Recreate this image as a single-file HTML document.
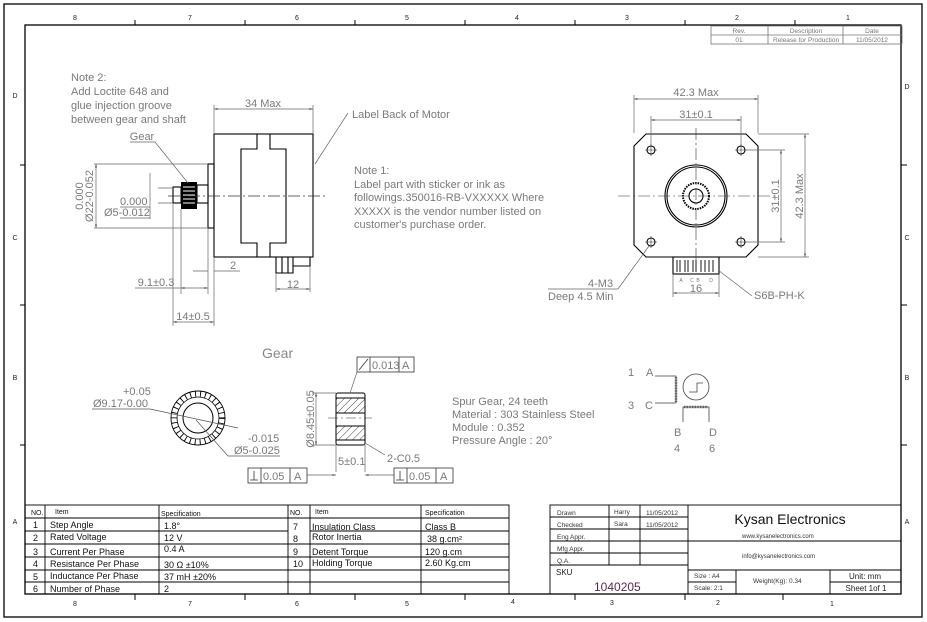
<!DOCTYPE html>
<html><head><meta charset="utf-8"><style>
html,body{margin:0;padding:0;background:#fff}
svg{display:block}
text{font-family:"Liberation Sans",Arial,sans-serif}
.g{fill:#7a7a7a;font-size:11px}
.t{fill:#111;font-size:9px}
.s{fill:#333;font-size:6.5px}
.m{fill:#222;font-size:7px;font-family:"Liberation Mono",monospace}
</style></head><body>
<svg width="927" height="622" viewBox="0 0 927 622" xmlns="http://www.w3.org/2000/svg">
<defs>
<marker id="a" viewBox="0 0 10 10" refX="10" refY="5" markerWidth="7" markerHeight="5" orient="auto-start-reverse"><path d="M0,2 L10,5 L0,8 z" fill="#555"/></marker>
<pattern id="h" width="5" height="5" patternUnits="userSpaceOnUse" patternTransform="rotate(45)"><line x1="0" y1="0" x2="0" y2="5" stroke="#444" stroke-width="1"/></pattern>
</defs>
<g fill="none" stroke="#000">
<rect x="4" y="4" width="918" height="613" stroke-width="1.3"/>
<rect x="25" y="25" width="876" height="569" stroke-width="1.3"/>
<path d="M135 20V25M245 20V25M355 20V25M465 20V25M575 20V25M685 20V25M795 20V25 M135 594V600M245 594V600M355 594V600M465 594V600M575 594V600M685 594V600M783 594V600 M20 165H25M20 305H25M20 445H25 M901 165H907M901 305H907M901 445H907"/>
</g>
<g class="m" text-anchor="middle">
<text x="75" y="20">8</text><text x="190" y="20">7</text><text x="297" y="20">6</text><text x="407" y="20">5</text><text x="517" y="20">4</text><text x="627" y="20">3</text><text x="737" y="20">2</text><text x="848" y="20">1</text>
<text x="75" y="606">8</text><text x="190" y="606">7</text><text x="297" y="606">6</text><text x="407" y="606">5</text><text x="513" y="604">4</text><text x="612" y="605">3</text><text x="718" y="605">2</text><text x="832" y="606">1</text>
<text x="15" y="98">D</text><text x="15" y="240">C</text><text x="15" y="380">B</text><text x="15" y="524">A</text>
<text x="907" y="89">D</text><text x="907" y="240">C</text><text x="907" y="380">B</text><text x="907" y="524">A</text>
</g>
<!-- revision table -->
<g fill="none" stroke="#777" stroke-width="0.8"><rect x="711" y="26" width="191" height="18"/><path d="M711 35H902M768 26V44M843 26V44"/></g>
<g font-size="6.5" fill="#777" text-anchor="middle"><text x="739" y="33">Rev.</text><text x="806" y="33">Description</text><text x="872" y="33">Date</text><text x="739" y="42">01</text><text x="806" y="42">Release for Production</text><text x="872" y="42">11/05/2012</text></g>

<!-- notes -->
<g class="g"><text x="71" y="81">Note 2:</text><text x="71" y="95">Add Loctite 648 and</text><text x="71" y="109">glue injection groove</text><text x="71" y="123">between gear and shaft</text>
<text x="354" y="174">Note 1:</text><text x="354" y="188">Label part with sticker or ink as</text><text x="354" y="201">followings.350016-RB-VXXXXX Where</text><text x="354" y="215">XXXXX is the vendor number listed on</text><text x="354" y="228">customer's purchase order.</text>
<text x="352" y="118">Label Back of Motor</text></g>

<!-- side view -->
<g fill="none" stroke="#000" stroke-width="1.1">
<rect x="214" y="134" width="99" height="123"/>
<path d="M257 134V149H241V243H257V257M270 134V149H286V243H270V257"/>
<rect x="208" y="164" width="6" height="64"/>
<rect x="197" y="185" width="11" height="18"/>
<rect x="173" y="187" width="8" height="16"/>
<path d="M276 257V273H293V257M282 257V273M288 257V273M293 266H310V257"/>
</g>
<rect x="181" y="182" width="16" height="27" fill="#000"/>
<g stroke="#fff" stroke-width="1"><path d="M183 187H195M183 191H195M183 195H195M183 199H195M183 203H195"/></g>
<path d="M168 196H325" stroke="#333" stroke-width="0.7" stroke-dasharray="12 3 2 3"/>
<g fill="none" stroke="#666" stroke-width="0.7">
<path d="M214 133V105M313 133V105"/><path d="M214 109H313" marker-start="url(#a)" marker-end="url(#a)"/>
<path d="M315 164L348 113"/>
<path d="M94 164H208M94 228H208"/><path d="M96 164V228" marker-start="url(#a)" marker-end="url(#a)"/>
<path d="M158 188H173M158 203H173M150 173V219M120 207H150M120 218H150"/>
<path d="M130 142H155L188 183"/>
<path d="M193 271H208M214 271H240"/>
<path d="M181 209V294M208 228V294M173 203V326M214 257V326"/>
<path d="M135 288H181"/><path d="M181 288H208" marker-start="url(#a)" marker-end="url(#a)"/>
<path d="M173 322H214" marker-start="url(#a)" marker-end="url(#a)"/>
<path d="M276 273V292M310 266V292"/><path d="M276 289H310" marker-start="url(#a)" marker-end="url(#a)"/>
</g>
<g class="g" text-anchor="middle"><text x="263" y="107">34 Max</text><text x="142" y="140">Gear</text><text x="233" y="269">2</text><text x="156" y="286">9.1±0.3</text><text x="193" y="320">14±0.5</text><text x="293" y="288">12</text></g>
<g class="g"><text x="120" y="205">0.000</text><text x="104" y="216">Ø5-0.012</text>
<text transform="translate(83,196) rotate(-90)" text-anchor="middle">0.000</text><text transform="translate(93,196) rotate(-90)" text-anchor="middle">Ø22-0.052</text></g>

<!-- front view -->
<g fill="none" stroke="#000" stroke-width="1.1">
<path d="M646 134H746L758 146V245L746 257H646L634 245V146Z"/>
<circle cx="651" cy="150" r="4"/><circle cx="741" cy="150" r="4"/><circle cx="651" cy="242" r="4"/><circle cx="741" cy="242" r="4"/>
<circle cx="696" cy="196" r="31"/><circle cx="696" cy="196" r="29"/>
<circle cx="696" cy="196" r="13" stroke-dasharray="1.5 1" stroke-width="2"/><circle cx="696" cy="196" r="7"/>
<rect x="673" y="257" width="46" height="17"/>
<path d="M677 260V272M680 260V272M685 260V272M688 260V272M693 260V272M696 260V272M701 260V272M705 260V272M709 260V272M713 260V272" stroke-width="0.9"/>
</g>
<g stroke="#333" stroke-width="0.6" fill="none"><path d="M645 150H657M651 144V156M735 150H747M741 144V156M645 242H657M651 236V248M735 242H747M741 236V248"/>
<path d="M618 196H775M696 128V262" stroke-dasharray="12 3 2 3"/></g>
<g fill="none" stroke="#666" stroke-width="0.7">
<path d="M634 133V95M758 133V95M651 146V116M741 146V116"/>
<path d="M634 99H758" marker-start="url(#a)" marker-end="url(#a)"/><path d="M651 120H741" marker-start="url(#a)" marker-end="url(#a)"/>
<path d="M745 150H785M745 242H785M758 134H809M758 257H809"/>
<path d="M781 150V242" marker-start="url(#a)" marker-end="url(#a)"/><path d="M805 134V257" marker-start="url(#a)" marker-end="url(#a)"/>
<path d="M673 274V297M719 274V297"/><path d="M673 293H719" marker-start="url(#a)" marker-end="url(#a)"/>
<path d="M649 246L618 289H548"/><path d="M718 270L752 296"/>
</g>
<g class="g" text-anchor="middle"><text x="696" y="96">42.3 Max</text><text x="696" y="118">31±0.1</text><text x="696" y="292">16</text>
<text transform="translate(779,196) rotate(-90)">31±0.1</text><text transform="translate(803,196) rotate(-90)">42.3 Max</text></g>
<g fill="#777" font-size="5" text-anchor="middle"><text x="681" y="282">A</text><text x="692" y="282">C</text><text x="698" y="282">B</text><text x="711" y="282">D</text></g>
<g class="g"><text x="588" y="287">4-M3</text><text x="548" y="300">Deep 4.5 Min</text><text x="754" y="299">S6B-PH-K</text></g>

<!-- gear detail -->
<text x="262" y="358" fill="#888" font-size="14">Gear</text>
<circle cx="198" cy="418" r="27" fill="none" stroke="#000" stroke-width="0.9"/>
<circle cx="198" cy="418" r="24" fill="none" stroke="#000" stroke-width="6" stroke-dasharray="0.9 4.1"/>
<circle cx="198" cy="418" r="21" fill="none" stroke="#000" stroke-width="0.8"/>
<circle cx="198" cy="418" r="15" fill="none" stroke="#000" stroke-width="1"/>
<g fill="none" stroke="#555" stroke-width="0.7"><path d="M92 409H150L238 428"/><path d="M280 456H228L196 420"/></g>
<g class="g"><text x="123" y="395">+0.05</text><text x="93" y="407">Ø9.17-0.00</text><text x="248" y="442">-0.015</text><text x="234" y="454">Ø5-0.025</text></g>
<rect x="336" y="398" width="29" height="15" fill="url(#h)"/><rect x="336" y="426" width="29" height="14" fill="url(#h)"/>
<g fill="none" stroke="#000" stroke-width="1"><rect x="336" y="393" width="29" height="52" rx="2"/><path d="M336 398H365M336 413H365M336 426H365M336 440H365"/></g>
<path d="M328 418H372" stroke="#333" stroke-width="0.6" stroke-dasharray="10 3 2 3"/>
<g fill="none" stroke="#666" stroke-width="0.7">
<path d="M312 393H336M312 445H336"/><path d="M316 393V445" marker-start="url(#a)" marker-end="url(#a)"/>
<path d="M357 372L350 393"/><path d="M365 443L385 455"/>
<path d="M336 445V472M365 445V472"/><path d="M307 475H336" marker-end="url(#a)"/><path d="M394 475H365" marker-end="url(#a)"/>
</g>
<g fill="none" stroke="#333" stroke-width="0.8"><rect x="357" y="357" width="57" height="15"/><path d="M370 357V372M399 357V372M359 370L368 359"/>
<rect x="248" y="468" width="59" height="15"/><path d="M261 468V483M290 468V483M250 480H258M254 480V471"/>
<rect x="394" y="468" width="59" height="15"/><path d="M407 468V483M436 468V483M396 480H404M400 480V471"/></g>
<g class="g"><text x="372" y="369">0.013</text><text x="402" y="369">A</text><text x="263" y="480">0.05</text><text x="294" y="480">A</text><text x="409" y="480">0.05</text><text x="440" y="480">A</text>
<text x="338" y="465">5±0.1</text><text x="387" y="462">2-C0.5</text><text transform="translate(314,419) rotate(-90)" text-anchor="middle">Ø8.45±0.05</text>
<text x="452" y="405">Spur Gear, 24 teeth</text><text x="452" y="418">Material : 303 Stainless Steel</text><text x="452" y="431">Module : 0.352</text><text x="452" y="444">Pressure Angle : 20°</text></g>

<!-- schematic -->
<g fill="none" stroke="#444" stroke-width="0.8"><path d="M655 376H676V403H655M683 422V407H709V422"/><path d="M676 377V402M684 407H708" stroke-width="2.5" stroke-dasharray="0.8 0.8"/><circle cx="696" cy="387" r="13"/><path d="M689 392H697V383H703"/></g>
<g class="g"><text x="628" y="376">1</text><text x="646" y="376">A</text><text x="628" y="409">3</text><text x="645" y="409">C</text><text x="674" y="436">B</text><text x="709" y="436">D</text><text x="674" y="452">4</text><text x="709" y="452">6</text></g>

<!-- spec table -->
<g fill="none" stroke="#000" stroke-width="0.9">
<rect x="25" y="505" width="484" height="89"/>
<path d="M25 518H509M25 531H288M25 544H509M25 557H509M25 570H509M25 582H509M310 531H509M45 505V594M159 505V594M288 505V594M310 505V594M421 505V594"/>
</g>
<g class="t">
<text x="31" y="515" font-size="7">NO.</text><text x="55" y="514" font-size="7">Item</text><text x="161" y="516" font-size="7">Specification</text><text x="290" y="515" font-size="7">NO.</text><text x="315" y="514" font-size="7">Item</text><text x="425" y="515" font-size="7">Specification</text>
<text x="33" y="528">1</text><text x="50" y="528">Step Angle</text><text x="164" y="529">1.8°</text>
<text x="33" y="541">2</text><text x="50" y="540">Rated Voltage</text><text x="164" y="541">12 V</text>
<text x="33" y="555">3</text><text x="50" y="555">Current Per Phase</text><text x="164" y="552">0.4 A</text>
<text x="33" y="567">4</text><text x="50" y="567">Resistance Per Phase</text><text x="164" y="568">30 Ω  ±10%</text>
<text x="33" y="580">5</text><text x="50" y="579">Inductance Per Phase</text><text x="164" y="580">37 mH ±20%</text>
<text x="33" y="592">6</text><text x="50" y="592">Number of Phase</text><text x="164" y="592">2</text>
<text x="293" y="530">7</text><text x="312" y="530">Insulation Class</text><text x="425" y="530">Class B</text>
<text x="293" y="542">8</text><text x="312" y="540">Rotor Inertia</text><text x="427" y="542">38 g.cm²</text>
<text x="293" y="555">9</text><text x="312" y="555">Detent Torque</text><text x="425" y="555">120 g.cm</text>
<text x="293" y="567">10</text><text x="312" y="566">Holding Torque</text><text x="425" y="566">2.60 Kg.cm</text>
</g>

<!-- title block -->
<g fill="none" stroke="#000" stroke-width="0.9">
<rect x="550" y="505" width="351" height="89"/>
<path d="M550 517H688M550 529H688M550 541H901M550 553H688M550 565H688M609 505V565M640 505V565M688 505V594M688 570H901M688 582H736M830 582H901M736 570V594M830 570V594"/>
</g>
<g class="s">
<text x="557" y="515">Drawn</text><text x="557" y="527">Checked</text><text x="557" y="539">Eng Appr.</text><text x="557" y="551">Mfg Appr.</text><text x="557" y="563">Q.A.</text>
<text x="614" y="514">Harry</text><text x="614" y="526">Sara</text><text x="646" y="515">11/05/2012</text><text x="646" y="527">11/05/2012</text>
<text x="694" y="578">Size : A4</text><text x="694" y="590">Scale: 2:1</text><text x="753" y="583">Weight(Kg): 0.34</text>
<text x="742" y="538" font-size="6">www.kysanelectronics.com</text><text x="742" y="558" font-size="6">info@kysanelectronics.com</text>
</g>
<text x="556" y="575" font-size="8" fill="#222">SKU</text>
<text x="594" y="591" font-size="12" fill="#5a2a4a">1040205</text>
<text x="790" y="524" font-size="14" fill="#111" text-anchor="middle">Kysan Electronics</text>
<text x="865" y="579" font-size="8" fill="#222" text-anchor="middle">Unit: mm</text>
<text x="866" y="591" font-size="8" fill="#222" text-anchor="middle">Sheet 1of 1</text>
</svg>
</body></html>
